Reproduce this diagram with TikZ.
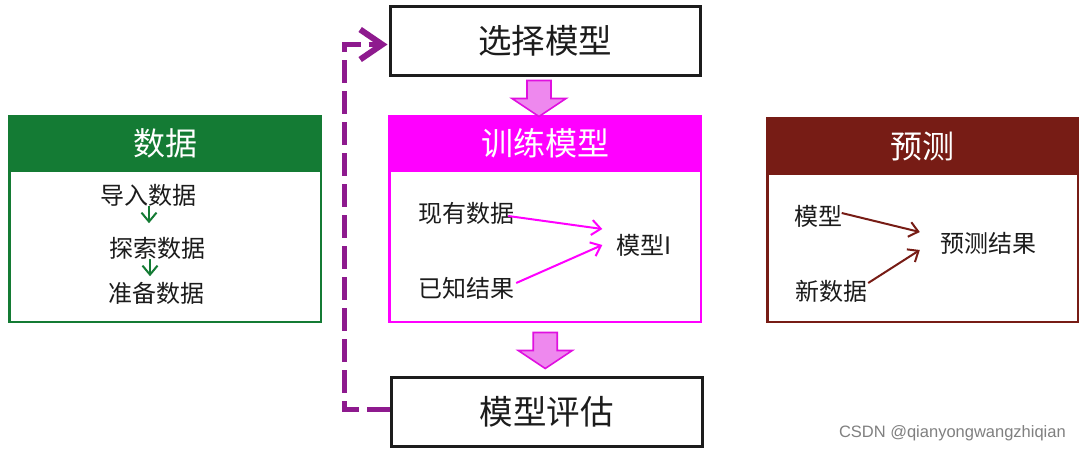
\documentclass[tikz,border=0pt]{standalone}
\usepackage{fontspec}
\setmainfont{Noto Sans CJK SC}
\newfontfamily\wmfont{Liberation Sans}
\usetikzlibrary{arrows.meta,calc}
\definecolor{dgreen}{HTML}{147B34}
\definecolor{mag}{HTML}{FF00FF}
\definecolor{dred}{HTML}{771C15}
\definecolor{dpurple}{HTML}{8E1A8E}
\definecolor{farfill}{HTML}{EE88EE}
\definecolor{farline}{HTML}{E010E0}
\definecolor{txt}{HTML}{1C1C1C}
\begin{document}
\begin{tikzpicture}[x=1pt,y=-1pt,
  cjk/.style={inner sep=0pt, text height=0.88em, text depth=0.12em, text=txt},
  bodytxt/.style={cjk, font=\fontsize{24}{27}\selectfont, yshift=-7pt},
  bigtxt/.style={cjk, font=\fontsize{33.5}{38}\selectfont, yshift=-7pt},
  plainbox/.style={draw=txt, line width=3pt, minimum width=310pt, minimum height=69pt,
    anchor=north west, inner sep=0pt},
  panel/.style={draw=#1, line width=2.5pt, minimum width=311.5pt, minimum height=204.5pt,
    anchor=north west, inner sep=0pt},
  header/.style={fill=#1, minimum width=314pt, minimum height=57pt, anchor=north,
    inner sep=0pt, text=white, font=\fontsize{32}{36}\selectfont},
  smallarrow/.style={draw=#1, line width=2pt, -{Straight Barb[length=9pt,width=15pt]}},
  dashline/.style={draw=dpurple, line width=5.5pt, dash pattern=on 23pt off 8pt,
    -{Straight Barb[length=22pt,width=30pt,line width=6pt]}},
  fatarr/.pic={\draw[draw=farline, fill=farfill, line width=1.6pt, line join=miter]
    (-12,0) -- (12,0) -- (12,18) -- (27,18) -- (0,36) -- (-27,18) -- (-12,18) -- cycle;}
]
\useasboundingbox[fill=white] (0,0) rectangle (1080,453);

% ---- select / evaluate boxes
\node[plainbox] (sel) at (388.5,4.5) {};
\node[bigtxt] (selt) at ($(sel.center)+(0,2)$) {选择模型};
\node[plainbox, minimum width=311pt] (eval) at (389.5,375.5) {};
\node[bigtxt] (evalt) at ($(eval.center)+(0,2)$) {模型评估};

% ---- data panel
\node[panel=dgreen] (data) at (8.25,116.25) {};
\node[header=dgreen] (datah) at ($(data.north)+(0,-1.25)$) {\raisebox{-1pt}{数据}};
\node[bodytxt] (d1) at (148,194) {导入数据};
\node[bodytxt] (d2) at (157,247) {探索数据};
\node[bodytxt] (d3) at (156,292) {准备数据};
\draw[smallarrow=dgreen] ($(d1.south)+(1,0)$) -- ++(0,17);
\draw[smallarrow=dgreen] ($(d2.south)+(-7,0)$) -- ++(0,17);

% ---- training panel
\node[panel=mag] (train) at (388.25,116.25) {};
\node[header=mag] (trainh) at ($(train.north)+(0,-1.25)$) {\raisebox{-1pt}{训练模型}};
\node[bodytxt] (t1) at (466,212) {现有数据};
\node[bodytxt] (t2) at (466,287) {已知结果};
\node[bodytxt] (t3) at (644,244) {模型I};
\draw[smallarrow=mag] ($(t1.east)+(-6,-3)$) -- ($(t3.west)+(-14,-22)$);
\draw[smallarrow=mag] ($(t2.east)+(2,-11)$) -- ($(t3.west)+(-14,-6)$);

% ---- prediction panel
\node[panel=dred, minimum width=310.5pt, minimum height=202.5pt] (pred) at (766.25,118.25) {};
\node[header=dred, minimum width=313pt, minimum height=58pt] (predh) at ($(pred.north)+(0,-1.25)$) {\raisebox{-2pt}{预测}};
\node[bodytxt] (p1) at (818.5,215) {模型};
\node[bodytxt] (p2) at (831,290) {新数据};
\node[bodytxt] (p3) at (988,242) {预测结果};
\draw[smallarrow=dred] ($(p1.east)+(-1,-9)$) -- ($(p3.west)+(-20,-17)$);
\draw[smallarrow=dred] ($(p2.east)+(1,-14)$) -- ($(p3.west)+(-20,1)$);

% ---- fat arrows between stages
\coordinate (fa1) at ($(sel.south)+(-6,4)$);
\coordinate (fa2) at ($(train.south)+(0,9.25)$);
\pic at (fa1) {fatarr};
\pic at (fa2) {fatarr};

% ---- feedback dashed loop
\draw[dashline] ($(eval.west)+(0,-2)$) -- ++(-45,0) |- ($(sel.west)+(-1,4)$);

% ---- watermark
\node[inner sep=0pt, text=black!50, font=\wmfont\fontsize{16.5}{18}\selectfont, anchor=east] (wm) at (1066,433) {CSDN @qianyongwangzhiqian};
\end{tikzpicture}
\end{document}
